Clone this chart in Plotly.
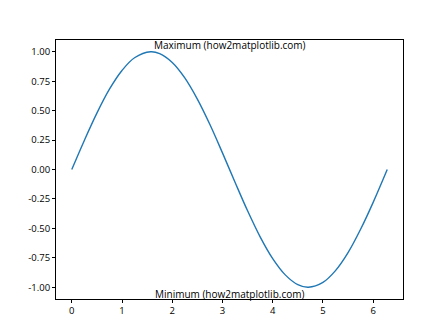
import plotly.graph_objects as go

x_vals = [0.0, 0.25, 0.5, 0.75, 1.0, 1.25, 1.57, 1.75, 2.0, 2.25, 2.5, 2.75, 3.0,
          3.25, 3.5, 3.75, 4.0, 4.25, 4.5, 4.71, 5.0, 5.25, 5.5, 5.75, 6.0, 6.28]
y_vals = [0.0, 0.247, 0.479, 0.682, 0.841, 0.949, 1.0, 0.984, 0.909, 0.778, 0.598, 0.382, 0.141,
          -0.108, -0.351, -0.572, -0.757, -0.895, -0.978, -1.0, -0.959, -0.859, -0.706, -0.508, -0.279, 0.0]
x_ticks = [0, 1, 2, 3, 4, 5, 6]
y_ticks = [-1.0, -0.75, -0.5, -0.25, 0.0, 0.25, 0.5, 0.75, 1.0]
max_label = "Maximum (how2matplotlib.com)"
min_label = "Minimum (how2matplotlib.com)"
label_x = 3.14

FONT = "Open Sans, DejaVu Sans, sans-serif"

fig = go.Figure()
fig.add_trace(go.Scatter(x=x_vals, y=y_vals, mode="lines",
                         line=dict(color="#1f77b4", width=1.4, shape="spline", smoothing=1.0),
                         showlegend=False, hoverinfo="skip"))

axis_common = dict(showgrid=False, zeroline=False, showline=True, linecolor="black",
                   linewidth=1, mirror=True, ticks="outside", ticklen=3, tickwidth=1,
                   tickcolor="black", tickfont=dict(family=FONT, size=9.5, color="black"))

xr0, xr1 = 0 - 0.05 * 6.28, 6.28 + 0.05 * 6.28
fig.update_xaxes(range=[xr0, xr1], tickvals=x_ticks, ticktext=[str(t) for t in x_ticks], **axis_common)
fig.update_yaxes(range=[-1.1, 1.1], tickvals=y_ticks, ticktext=[f"{t:.2f}" for t in y_ticks], **axis_common)

fig.add_annotation(x=label_x, y=max(y_vals), text=max_label, showarrow=False,
                   xanchor="center", yanchor="bottom", borderpad=0, yshift=-1,
                   font=dict(family=FONT, size=10, color="black"))
fig.add_annotation(x=label_x, y=min(y_vals), text=min_label, showarrow=False,
                   xanchor="center", yanchor="top", borderpad=0, yshift=1,
                   font=dict(family=FONT, size=10, color="black"))

fig.update_layout(width=448, height=336, margin=dict(l=56, r=45, t=40, b=37),
                  plot_bgcolor="white", paper_bgcolor="white")

fig.write_html("out.html")
